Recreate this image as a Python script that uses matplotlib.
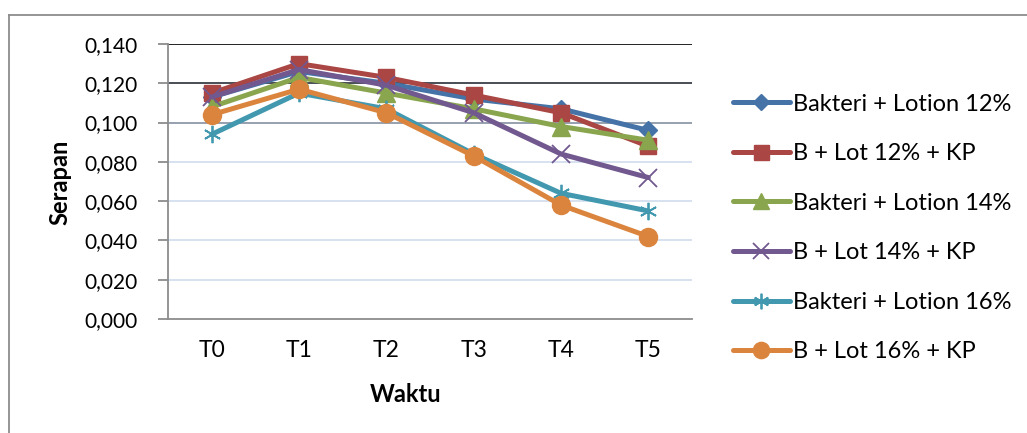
import matplotlib
matplotlib.use("Agg")
import matplotlib.pyplot as plt
from matplotlib.ticker import FuncFormatter

plt.rcParams['font.family'] = ['Lato', 'DejaVu Sans']

categories = ["T0", "T1", "T2", "T3", "T4", "T5"]
series_names = ["Bakteri + Lotion 12%", "B + Lot 12% + KP",
                "Bakteri + Lotion 14%", "B + Lot 14% + KP",
                "Bakteri + Lotion 16%", "B + Lot 16% + KP"]
bl12 = [0.113, 0.126, 0.120, 0.112, 0.107, 0.096]
bl12kp = [0.115, 0.130, 0.123, 0.114, 0.105, 0.088]
bl14 = [0.108, 0.123, 0.115, 0.107, 0.098, 0.091]
bl14kp = [0.113, 0.127, 0.119, 0.105, 0.084, 0.072]
bl16 = [0.094, 0.115, 0.107, 0.084, 0.064, 0.055]
bl16kp = [0.104, 0.117, 0.105, 0.083, 0.058, 0.042]
values = [bl12, bl12kp, bl14, bl14kp, bl16, bl16kp]
yticks = [0.000, 0.020, 0.040, 0.060, 0.080, 0.100, 0.120, 0.140]

colors = ['#4572A7', '#AA4643', '#89A54E', '#71588F', '#4198AF', '#DB843D']
markers = ['D', 's', '^', 'x', (6, 2, 0), 'o']
msizes = [9, 12, 12.5, 12.5, 12.5, 13]
mews = [1, 1, 1, 1.3, 1.3, 1]

W, H = 1027, 433
fig = plt.figure(figsize=(W / 100, H / 100), dpi=100)
ax = fig.add_axes([168 / W, 1 - 319 / H, (692 - 168) / W, (319 - 44) / H])

# outer chart border
fig.add_artist(plt.Line2D([9 / W, 9 / W], [0, 1 - 15 / H], color='#8C8C8C', lw=1.3, transform=fig.transFigure))
fig.add_artist(plt.Line2D([9 / W, 1], [1 - 15 / H, 1 - 15 / H], color='#8C8C8C', lw=1.3, transform=fig.transFigure))

x = list(range(len(categories)))
grid_colors = ['#D4DEEF', '#D4DEEF', '#D4DEEF', '#D4DEEF', '#D4DEEF', '#8E98A8', '#3A3F48', '#111111']
for yv, gc in zip(yticks[1:], grid_colors[1:]):
    ax.axhline(yv, color=gc, lw=1.3, zorder=1)

for name, vals, c, m, ms, mew in zip(series_names, values, colors, markers, msizes, mews):
    ax.plot(x, vals, color=c, lw=3.6, marker=m, markersize=ms,
            markeredgewidth=mew, markeredgecolor=c, markerfacecolor=c,
            label=name, zorder=3, solid_capstyle='round', solid_joinstyle='round')

ax.set_xlim(-0.5, len(categories) - 0.5)
ax.set_ylim(0, 0.14)
ax.set_yticks(yticks)
ax.yaxis.set_major_formatter(FuncFormatter(lambda v, p: f"{v:.3f}".replace('.', ',')))
ax.set_xticks(x)
ax.set_xticklabels(categories)
ax.tick_params(axis='x', length=0, pad=15, labelsize=16.5)
ax.tick_params(axis='y', length=7, width=1.3, color='#8C8C8C', pad=15, labelsize=15)

for s in ['top', 'right']:
    ax.spines[s].set_visible(False)
for s in ['left', 'bottom']:
    ax.spines[s].set_color('#8C8C8C')
    ax.spines[s].set_linewidth(1.3)

fig.text(60 / W, 1 - 182 / H, "Serapan", rotation=90, ha='center', va='center',
         fontsize=17, fontweight='bold')
fig.text(406 / W, 1 - 394 / H, "Waktu", ha='center', va='center',
         fontsize=17, fontweight='bold')

leg = ax.legend(loc='center left', bbox_to_anchor=(733 / W, 1 - 228 / H),
                bbox_transform=fig.transFigure, frameon=False, fontsize=17,
                borderpad=0, borderaxespad=0, handlelength=2.4, handletextpad=0.13,
                labelspacing=1.21, markerscale=0.9)

fig.savefig("out.png", dpi=100)
